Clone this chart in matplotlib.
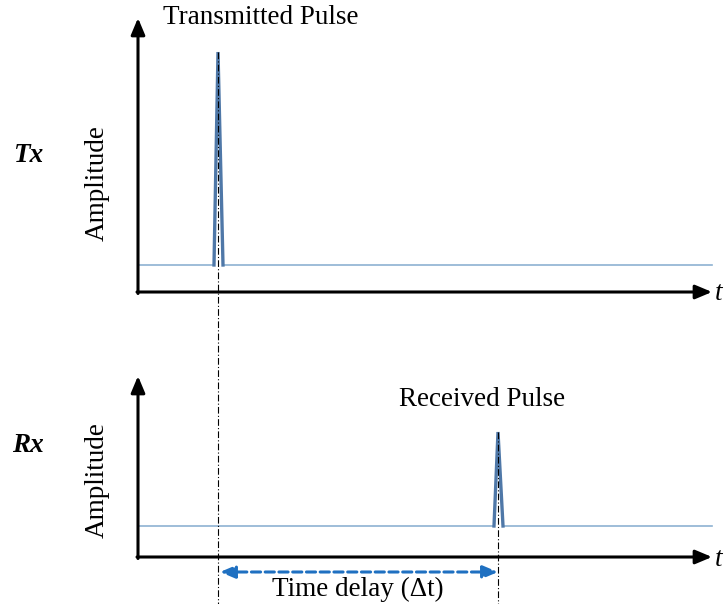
import matplotlib.pyplot as plt

# diagram coordinates (pixel-like units, y grows downwards)
panel_origin_x = 138
panel_end_x = 712
tx_axis_y, tx_top_y, tx_base_y = 292, 18, 265
rx_axis_y, rx_top_y, rx_base_y = 557, 376, 526

# pulses: (left foot, peak, right foot) positions and peak heights
tx_pulse_x = [214, 218, 223]
tx_pulse_peak = 52
rx_pulse_x = [494, 498, 503]
rx_pulse_peak = 432

delay_y = 572

plt.rcParams["font.family"] = ["Liberation Serif", "DejaVu Serif"]

fig = plt.figure(figsize=(7.24, 6.04), dpi=100)
ax = fig.add_axes([0, 0, 1, 1])
ax.set_xlim(0, 724)
ax.set_ylim(604, 0)
ax.axis("off")

base_col = "#8db2d2"
pulse_col = "#4f78a8"
arrow_col = "#1f70c1"
fs = 19.5


def draw_panel(axis_y, top_y, base_y, px, peak, label, title, title_xy, amp_y, lab_y):
    # axes with arrow heads
    ax.annotate("", xy=(panel_origin_x, top_y), xytext=(panel_origin_x, axis_y + 1.5),
                arrowprops=dict(arrowstyle="-|>,head_length=1.0,head_width=0.42",
                                color="black", lw=2.2, shrinkA=0, shrinkB=0))
    ax.annotate("", xy=(panel_end_x, axis_y), xytext=(panel_origin_x - 1, axis_y),
                arrowprops=dict(arrowstyle="-|>,head_length=1.0,head_width=0.42",
                                color="black", lw=2.2, shrinkA=0, shrinkB=0))
    # baseline
    ax.plot([panel_origin_x, px[0]], [base_y, base_y], color=base_col, lw=1.2)
    ax.plot([px[2], panel_end_x], [base_y, base_y], color=base_col, lw=1.2)
    # pulse
    ax.plot(px, [base_y, peak, base_y], color=pulse_col, lw=2.4, solid_joinstyle="miter")
    ax.text(715, axis_y + 2, "t", fontsize=fs, style="italic", ha="left", va="center")
    ax.text(title_xy[0], title_xy[1], title, fontsize=fs, ha="center", va="center")
    ax.text(97, amp_y, "Amplitude", fontsize=fs, rotation=90, ha="center", va="center")
    ax.text(28, lab_y, label, fontsize=fs, weight="bold", style="italic",
            ha="center", va="center")


draw_panel(tx_axis_y, tx_top_y, tx_base_y, tx_pulse_x, tx_pulse_peak,
           "Tx", "Transmitted Pulse", (261, 17), 183, 155)
draw_panel(rx_axis_y, rx_top_y, rx_base_y, rx_pulse_x, rx_pulse_peak,
           "Rx", "Received Pulse", (482, 400), 480, 445)

# reference dash-dot lines
ax.plot([tx_pulse_x[1], tx_pulse_x[1]], [tx_pulse_peak, 604], color="black",
        lw=0.8, ls=(0, (6, 2, 1, 2)))
ax.plot([rx_pulse_x[1], rx_pulse_x[1]], [rx_pulse_peak, 604], color="black",
        lw=0.8, ls=(0, (6, 2, 1, 2)))

# time delay arrow
ax.annotate("", xy=(rx_pulse_x[1], delay_y), xytext=(tx_pulse_x[1] + 2, delay_y),
            arrowprops=dict(arrowstyle="<|-|>,head_length=0.9,head_width=0.38",
                            color=arrow_col, lw=2.2, ls=(0, (3, 1.5)),
                            shrinkA=0, shrinkB=0))
ax.text(358, 589, "Time delay (\u0394t)", fontsize=fs, ha="center", va="center")

fig.savefig("out.png", dpi=100)
